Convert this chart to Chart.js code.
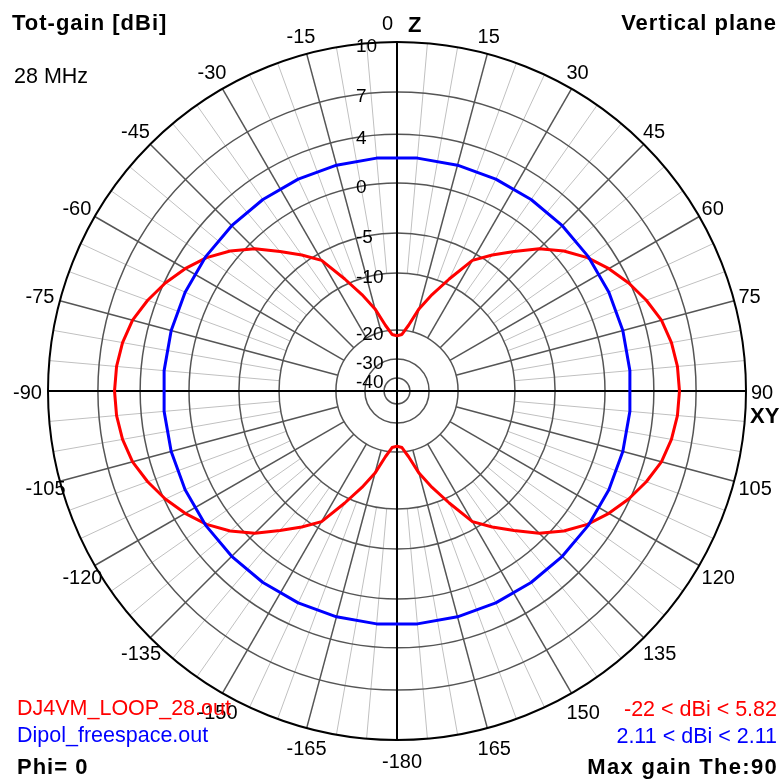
<!DOCTYPE html>
<html>
<head>
<meta charset="utf-8">
<script src="https://cdn.jsdelivr.net/npm/chart.js@4/dist/chart.umd.min.js"></script>
<style>
  html, body { margin: 0; padding: 0; background: #fff; }
  #wrap { position: relative; width: 784px; height: 784px; }
</style>
</head>
<body>
<div id="wrap"><canvas id="c" width="784" height="784"></canvas></div>
<script>
// Gain rings of the log grid (dBi) and their radius as a fraction of the rim
const ringDbi    = [10, 7, 4, 0, -5, -10, -20, -30, -40];
const ringRadius = [1.000, 0.857, 0.736, 0.596, 0.453, 0.338, 0.175, 0.092, 0.037];

// Elevation angles, 0 = zenith (Z), 90 = horizon (XY), clockwise, 5 degree steps
const thetaStep = 5;

// Rim labels every 15 degrees
const angleTickStep = 15;

// DJ4VM loop, total gain in dBi for theta = 0, 5, 10 ... 355
const loopGain = [
  -22.0, -21.5, -19.0, -15.8, -12.7, -9.3, -5.9, -4.2, -2.6, -0.7,
    0.8,   2.0,   3.0,   3.9,   4.6,  5.2,  5.55, 5.75, 5.82, 5.75,
    5.55,  5.2,   4.6,   3.9,   3.0,  2.0,  0.8, -0.7, -2.6, -4.2,
   -5.9,  -9.3, -12.7, -15.8, -19.0, -21.5, -22.0, -21.5, -19.0, -15.8,
  -12.7,  -9.3,  -5.9,  -4.2,  -2.6, -0.7,  0.8,  2.0,  3.0,  3.9,
    4.6,   5.2,   5.55,  5.75,  5.82, 5.75, 5.55, 5.2,  4.6,  3.9,
    3.0,   2.0,   0.8,  -0.7,  -2.6, -4.2, -5.9, -9.3, -12.7, -15.8,
  -19.0, -21.5
];

// Free-space dipole, total gain in dBi sampled at theta = 5, 15, 25 ... 355
const dipoleGain = [
  2.11, 2.11, 2.11, 2.11, 2.11, 2.11, 2.11, 2.11, 2.11,
  2.11, 2.11, 2.11, 2.11, 2.11, 2.11, 2.11, 2.11, 2.11,
  2.11, 2.11, 2.11, 2.11, 2.11, 2.11, 2.11, 2.11, 2.11,
  2.11, 2.11, 2.11, 2.11, 2.11, 2.11, 2.11, 2.11, 2.11
];

// dBi -> relative radius on the log grid (piecewise between rings)
function radiusOf(db) {
  if (db >= ringDbi[0]) return ringRadius[0];
  for (let i = 0; i < ringDbi.length - 1; i++) {
    const a = ringDbi[i], b = ringDbi[i + 1];
    if (db <= a && db >= b) {
      const t = (a - db) / (a - b);
      return ringRadius[i] + t * (ringRadius[i + 1] - ringRadius[i]);
    }
  }
  return ringRadius[ringRadius.length - 1];
}

const thetaLabels = [];
for (let a = 0; a < 360; a += thetaStep) thetaLabels.push(a);

const loopData = loopGain.map(radiusOf);
// dipole samples sit on the odd 5-degree slots; gaps are spanned by straight lines
const dipoleData = thetaLabels.map(() => null);
dipoleGain.forEach((g, i) => { dipoleData[2 * i + 1] = radiusOf(g); });

// Polar grid: 5 degree light spokes, 15 degree dark spokes, gain rings, axes
const gridPlugin = {
  id: 'logGrid',
  beforeDatasetsDraw(chart) {
    const s = chart.scales.r;
    const ctx = chart.ctx;
    const cx = s.xCenter, cy = s.yCenter;
    const px = f => s.getDistanceFromCenterForValue(f);
    const rimOf = db => px(radiusOf(db));
    ctx.save();
    const spoke = (deg, r0, r1) => {
      const a = (deg - 90) * Math.PI / 180;
      ctx.beginPath();
      ctx.moveTo(cx + Math.cos(a) * r0, cy + Math.sin(a) * r0);
      ctx.lineTo(cx + Math.cos(a) * r1, cy + Math.sin(a) * r1);
      ctx.stroke();
    };
    const rim = px(1);
    ctx.strokeStyle = '#c0c0c0';
    ctx.lineWidth = 1;
    for (let d = 0; d < 360; d += 5) {
      if (d % 15 !== 0) spoke(d, rimOf(-10), rim);
    }
    ctx.strokeStyle = '#555';
    ctx.lineWidth = 1.5;
    for (let d = 0; d < 360; d += 15) {
      if (d % 90 !== 0) spoke(d, rimOf(-20), rim);
    }
    ringDbi.forEach((db, i) => {
      if (i === 0) return;
      ctx.beginPath();
      ctx.arc(cx, cy, px(ringRadius[i]), 0, Math.PI * 2);
      ctx.strokeStyle = '#555';
      ctx.lineWidth = 1.5;
      ctx.stroke();
    });
    ctx.beginPath();
    ctx.arc(cx, cy, rim, 0, Math.PI * 2);
    ctx.strokeStyle = '#000';
    ctx.lineWidth = 2;
    ctx.stroke();
    ctx.strokeStyle = '#000';
    ctx.lineWidth = 2;
    ctx.beginPath();
    ctx.moveTo(cx, cy - rim); ctx.lineTo(cx, cy + rim);
    ctx.moveTo(cx - rim, cy); ctx.lineTo(cx + rim, cy);
    ctx.stroke();
    ctx.restore();
  },
  afterDraw(chart) {
    const s = chart.scales.r;
    const ctx = chart.ctx;
    const cx = s.xCenter, cy = s.yCenter;
    const rim = s.getDistanceFromCenterForValue(1);
    ctx.save();
    ctx.textAlign = 'left';
    ctx.textBaseline = 'alphabetic';
    ctx.fillStyle = '#000';

    // gain ring labels along the zenith axis
    ctx.font = '19px "Liberation Sans", Arial, sans-serif';
    ringDbi.forEach((db, i) => {
      const r = s.getDistanceFromCenterForValue(ringRadius[i]);
      ctx.fillText(String(db), cx - 41, cy - r + 10);
    });

    // angle labels round the rim
    ctx.font = '20px "Liberation Sans", Arial, sans-serif';
    const lr = rim + 20;
    for (let d = 0; d < 360; d += angleTickStep) {
      const txt = d <= 165 ? String(d) : String(d - 360);
      const a = d * Math.PI / 180;
      const x = cx + lr * Math.sin(a) - 15;
      const y = cy - lr * Math.cos(a) + 8;
      ctx.fillText(txt, x, y);
    }

    // axis names
    ctx.font = 'bold 22px "Liberation Sans", Arial, sans-serif';
    ctx.fillText('Z', cx + 11, cy - lr + 10);
    ctx.fillText('XY', cx + lr - 16, cy + 32);

    // corner captions
    ctx.letterSpacing = '1px';
    ctx.font = 'bold 22px "Liberation Sans", Arial, sans-serif';
    ctx.fillText('Tot-gain [dBi]', 12, 30);
    ctx.fillText('Phi= 0', 17, 774);
    ctx.textAlign = 'right';
    ctx.fillText('Vertical plane', 777, 30);
    ctx.letterSpacing = '1.3px';
    ctx.fillText('Max gain The:90', 778, 774);

    ctx.letterSpacing = '0px';
    ctx.font = '21.5px "Liberation Sans", Arial, sans-serif';
    ctx.textAlign = 'left';
    ctx.fillText('28 MHz', 14, 83);
    ctx.fillStyle = '#ff0000';
    ctx.fillText('DJ4VM_LOOP_28.out', 17, 715);
    ctx.fillStyle = '#0000ff';
    ctx.fillText('Dipol_freespace.out', 17, 742);
    ctx.textAlign = 'right';
    ctx.fillStyle = '#ff0000';
    ctx.fillText('-22 < dBi < 5.82', 777, 716);
    ctx.fillStyle = '#0000ff';
    ctx.fillText('2.11 < dBi < 2.11', 777, 743);
    ctx.restore();
  }
};

new Chart(document.getElementById('c'), {
  type: 'radar',
  data: {
    labels: thetaLabels,
    datasets: [
      {
        label: 'DJ4VM_LOOP_28.out',
        data: loopData,
        borderColor: '#ff0000',
        borderWidth: 3,
        fill: false,
        order: 2
      },
      {
        label: 'Dipol_freespace.out',
        data: dipoleData,
        borderColor: '#0000ff',
        borderWidth: 3,
        fill: false,
        spanGaps: true,
        order: 1
      }
    ]
  },
  options: {
    responsive: false,
    animation: false,
    layout: { padding: { left: 48, right: 38, top: 42, bottom: 44 } },
    plugins: { legend: { display: false }, tooltip: { enabled: false } },
    elements: {
      point: { radius: 0, hoverRadius: 0 },
      line: { tension: 0, borderJoinStyle: 'round' }
    },
    scales: {
      r: {
        min: 0,
        max: 1,
        startAngle: 0,
        ticks: { display: false },
        grid: { display: false },
        angleLines: { display: false },
        pointLabels: { display: false }
      }
    }
  },
  plugins: [gridPlugin]
});
</script>
</body>
</html>
